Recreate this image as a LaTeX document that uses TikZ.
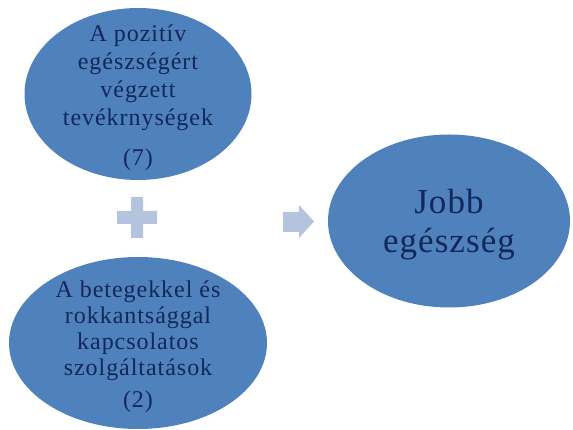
\documentclass[tikz,border=0pt]{standalone}
\usepackage{fontspec}
\setmainfont{Liberation Serif}
\usetikzlibrary{shapes.geometric}
\definecolor{ovalblue}{RGB}{79,129,189}
\definecolor{signblue}{RGB}{180,196,222}
\definecolor{textnavy}{RGB}{18,40,88}
\begin{document}
\begin{tikzpicture}[x=1pt,y=-1pt,
  oval/.style={ellipse,fill=ovalblue,draw=none,inner sep=0pt},
  ovaltext/.style={align=center,text=textnavy,inner sep=0pt}]
\useasboundingbox (0,0) rectangle (573,430);
\node[oval,minimum width=227pt,minimum height=172pt] (pos) at (138,94) {};
\node[oval,minimum width=258pt,minimum height=172pt] (serv) at (138,343) {};
\node[oval,minimum width=242pt,minimum height=173pt] (health) at (449,221) {};
\node[ovaltext,font=\fontsize{24}{28}\selectfont\addfontfeature{LetterSpace=4}] (postext) at ([yshift=-4pt]pos.center)
  {A pozitív\\egészségért\\végzett\\tevékrnységek\\[12pt](7)};
\node[ovaltext,font=\fontsize{24}{26}\selectfont\addfontfeature{LetterSpace=4}] (servtext) at ([yshift=-4pt]serv.center)
  {A betegekkel és\\rokkantsággal\\kapcsolatos\\szolgáltatások\\[6pt](2)};
\node[ovaltext,font=\fontsize{35}{39}\selectfont\addfontfeature{LetterSpace=3}] (healthtext) at ([yshift=-4pt]health.center)
  {Jobb\\egészség};
% plus sign
\fill[signblue] (131,197) -- (143,197) -- (143,211) -- (157,211) -- (157,224) -- (143,224)
  -- (143,238) -- (131,238) -- (131,224) -- (117,224) -- (117,211) -- (131,211) -- cycle;
% block arrow
\fill[signblue] (283,212) -- (299,212) -- (299,205) -- (314,221.5) -- (299,238) -- (299,232)
  -- (283,232) -- cycle;
\end{tikzpicture}
\end{document}
